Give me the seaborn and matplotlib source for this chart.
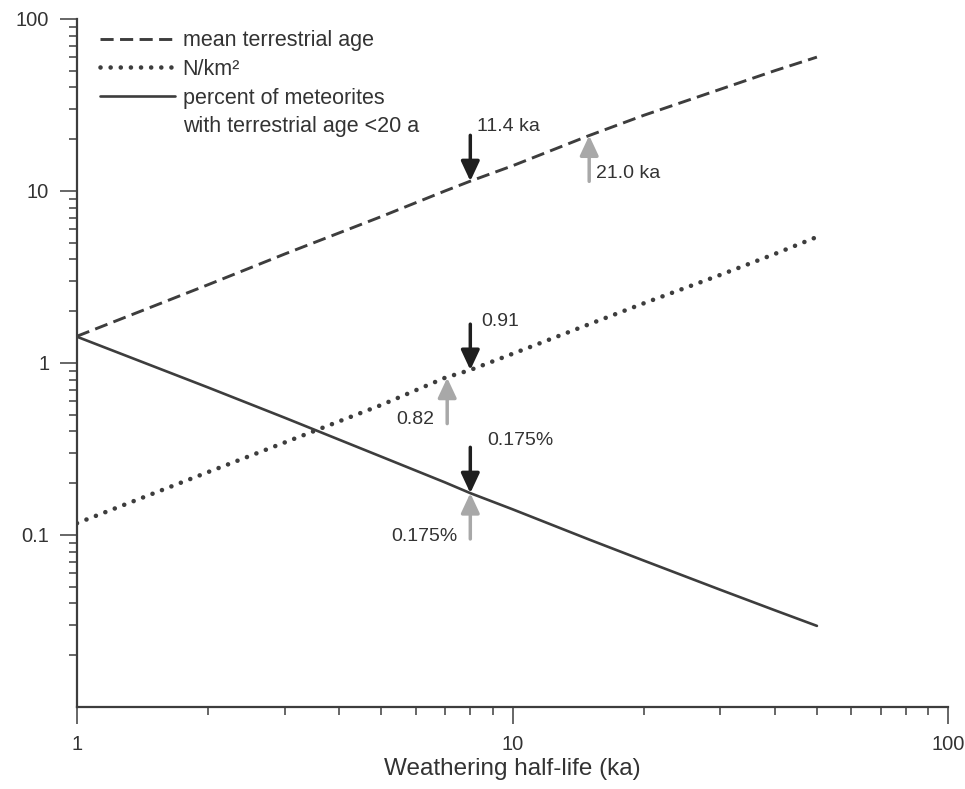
import numpy as np
import pandas as pd
import matplotlib
matplotlib.use('Agg')
import matplotlib.pyplot as plt
from matplotlib.lines import Line2D
import seaborn as sns

# ============================================================================
# DATA
# ============================================================================

half_life = [1, 2, 3, 5, 7, 8, 10, 15, 20, 30, 40, 50]
mean_age = [1.43, 2.85, 4.3, 7.1, 10.0, 11.4, 14.0, 21.0, 27.5, 39.0, 50.0, 60.0]
n_per_km2 = [0.117, 0.232, 0.345, 0.57, 0.82, 0.91, 1.13, 1.68, 2.22, 3.25, 4.3, 5.4]
pct_young = [1.42, 0.72, 0.48, 0.285, 0.202, 0.175, 0.141, 0.094, 0.071, 0.048, 0.0365, 0.0296]

# arrow markers: where they point, their label, pointing down (black) or up (grey)
arrow_x = [8, 15, 8, 7.08, 8, 8]
arrow_y = [11.4, 21.0, 0.91, 0.82, 0.175, 0.175]
arrow_lbl = ['11.4 ka', '21.0 ka', '0.91', '0.82', '0.175%', '0.175%']
arrow_dir = ['down', 'up', 'down', 'up', 'down', 'up']

xticks = [1, 10, 100]
yticks = [0.1, 1, 10, 100]
ytick_labels = ['0.1', '1', '10', '100']

# ============================================================================
# STYLE
# ============================================================================

sns.set_style('ticks')
plt.rcParams['font.family'] = ['Liberation Sans', 'DejaVu Sans']

LINE = '#3d3d3d'
TXT = '#333333'
DARK = '#1f1f1f'
GREY = '#a8a8a8'

DASH = (0, (4.5, 2.2))
DOT = (0, (0.01, 2.2))

fig = plt.figure(figsize=(9.65, 7.89), dpi=100)
ax = fig.add_axes([0.0798, 0.104, 0.9026, 0.872])

df = pd.DataFrame({'x': half_life, 'age': mean_age, 'n': n_per_km2, 'pct': pct_young})

sns.lineplot(data=df, x='x', y='age', ax=ax, color=LINE, lw=2.1, linestyle=DASH)
sns.lineplot(data=df, x='x', y='n', ax=ax, color=LINE, lw=3.3,
             linestyle=DOT, dash_capstyle='round')
sns.lineplot(data=df, x='x', y='pct', ax=ax, color=LINE, lw=1.9)

ax.set_xscale('log')
ax.set_yscale('log')
ax.set_xlim(1, 100)
ax.set_ylim(0.01, 100)

ax.set_xticks(xticks, [str(t) for t in xticks])
ax.set_yticks(yticks, ytick_labels)
ax.xaxis.set_minor_locator(matplotlib.ticker.LogLocator(base=10, subs=np.arange(2, 10)))
ax.yaxis.set_minor_locator(matplotlib.ticker.LogLocator(base=10, subs=np.arange(2, 10)))
ax.xaxis.set_minor_formatter(matplotlib.ticker.NullFormatter())
ax.yaxis.set_minor_formatter(matplotlib.ticker.NullFormatter())

ax.tick_params(which='major', length=12, width=1.1, color=LINE,
               labelsize=14.5, labelcolor=TXT, pad=8)
ax.tick_params(which='minor', length=6, width=1.1, color=LINE)

sns.despine(ax=ax)
for side in ['left', 'bottom']:
    ax.spines[side].set_color(LINE)
    ax.spines[side].set_linewidth(1.6)

ax.set_xlabel('Weathering half-life (ka)', fontsize=17.5, color=TXT, labelpad=3)
ax.set_ylabel('')

# ============================================================================
# ARROWS + LABELS
# ============================================================================

for x, y, d in zip(arrow_x, arrow_y, arrow_dir):
    col, off = (DARK, 33) if d == 'down' else (GREY, -33)
    ax.annotate('', xy=(x, y), xytext=(0, off), textcoords='offset points',
                arrowprops=dict(arrowstyle='-|>,head_length=0.6,head_width=0.28',
                                color=col, lw=2.5, shrinkA=0, shrinkB=0,
                                mutation_scale=20))

# label offsets (points) from the arrow tip
lbl_off = [(5, 39, 'left'), (5, -27, 'left'), (8, 35, 'left'),
           (-9, -30, 'right'), (12, 38, 'left'), (-9, -31, 'right')]
for x, y, lbl, (dx, dy, ha) in zip(arrow_x, arrow_y, arrow_lbl, lbl_off):
    ax.annotate(lbl, xy=(x, y), xytext=(dx, dy), textcoords='offset points',
                ha=ha, va='center', fontsize=14, color=TXT)

# ============================================================================
# LEGEND
# ============================================================================

handles = [
    Line2D([], [], color=LINE, lw=2.1, linestyle=DASH),
    Line2D([], [], color=LINE, lw=3.3, linestyle=DOT, dash_capstyle='round'),
    Line2D([], [], color=LINE, lw=1.9),
    Line2D([], [], color='none'),
]
labels = ['mean terrestrial age', 'N/km²', 'percent of meteorites',
          'with terrestrial age <20 a']
ax.legend(handles, labels, loc='upper left', bbox_to_anchor=(0.004, 1.012),
          frameon=False, fontsize=15.5, handlelength=3.5, handletextpad=0.35,
          labelspacing=0.36, labelcolor=TXT)

plt.savefig('out.png', dpi=100)
